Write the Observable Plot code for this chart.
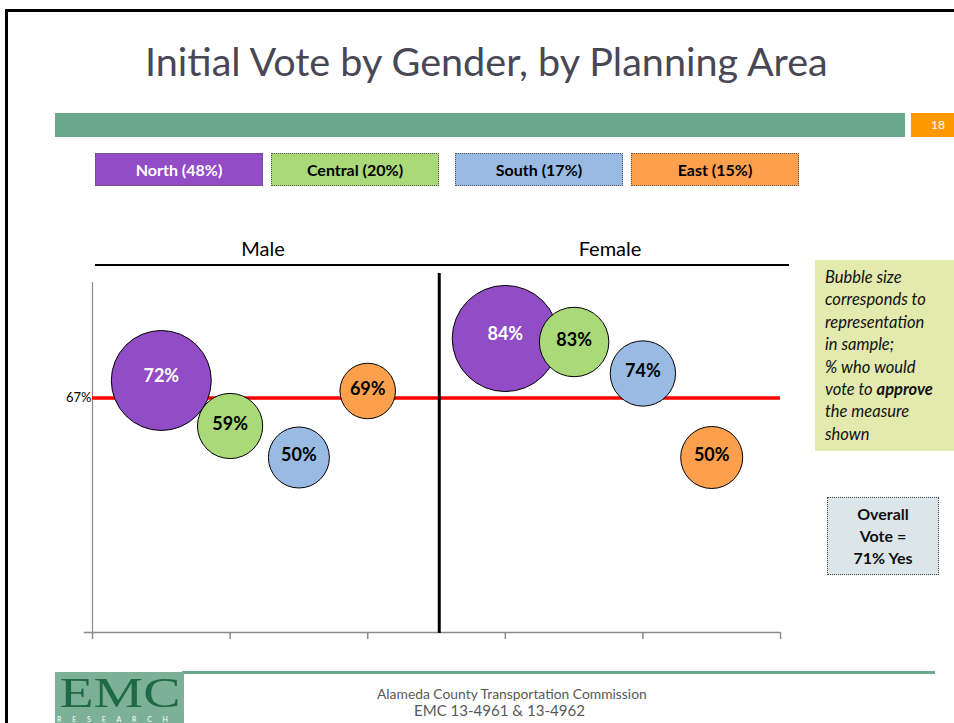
<!DOCTYPE html>
<html>
<head>
<meta charset="utf-8">
<script src="https://cdn.jsdelivr.net/npm/d3@7"></script>
<script src="https://cdn.jsdelivr.net/npm/@observablehq/plot@0.6"></script>
<style>
  body { margin: 0; background: #fff; }
  #slide { position: relative; width: 954px; height: 723px; overflow: hidden; font-family: Lato, "Open Sans", sans-serif; background: #fff; }
  .abs { position: absolute; }
  .txt { position: absolute; white-space: nowrap; line-height: 1; }
  .legend { position: absolute; box-sizing: border-box; border: 1px dotted #555; display: flex; align-items: center; justify-content: center; font-weight: bold; font-size: 16px; }
  #note { font-style: italic; font-size: 16.5px; line-height: 22.4px; color: #111; box-sizing: border-box; padding: 6px 0 0 10px; white-space: nowrap; }
  #overall { box-sizing: border-box; border: 1px dotted #444; display: flex; flex-direction: column; align-items: center; justify-content: center; text-align: center; font-weight: bold; font-size: 16px; line-height: 21.7px; color: #111; }
  #chart { position: absolute; left: 0; top: 220px; }
</style>
</head>
<body>
<div id="slide"></div>
<script>
// ---------- data ----------
const title = "Initial Vote by Gender, by Planning Area";
const regions = ["North", "Central", "South", "East"];
const regionShares = [48, 20, 17, 15];          // % of sample (legend)
const genders = ["Male", "Female"];
const maleVote = [72, 59, 50, 69];               // % vote to approve
const femaleVote = [84, 83, 74, 50];
const maleSize = [47, 20, 17.5, 14.5];           // bubble size (representation in sample)
const femaleSize = [53, 22.7, 20.1, 18.1];
const benchmark = 67;                            // red reference line
const overallYes = 71;
const pageNumber = "18";
const noteLines = ["Bubble size", "corresponds to", "representation", "in sample;", "% who would", "vote to <b>approve</b>", "the measure", "shown"];
const footerLines = ["Alameda County Transportation Commission", "EMC 13-4961 & 13-4962"];

// ---------- styles ----------
const regionColors = ["#914CC6", "#AAD97A", "#99BBE3", "#FDA04E"];
const legendTextColors = ["#fff", "#000", "#000", "#000"];
const legendLefts = [95, 271, 455, 631];

// ---------- build table ----------
const bubbles = [];
genders.forEach((g, gi) => {
  const votes = gi === 0 ? maleVote : femaleVote;
  const sizes = gi === 0 ? maleSize : femaleSize;
  regions.forEach((r, ri) => bubbles.push({
    gender: g, region: r,
    slot: gi * 2.5 + 0.5 + ri * 0.5,
    vote: votes[ri], size: sizes[ri]
  }));
});

const slide = document.getElementById("slide");
function el(cls, css, html) {
  const d = document.createElement("div");
  d.className = cls;
  Object.assign(d.style, css);
  if (html !== undefined) d.innerHTML = html;
  slide.appendChild(d);
  return d;
}
// place text so its baseline is at y, fitting width / centering
function placeText(d, {baseline, left, center, width}) {
  const m = document.createElement("span");
  m.style.cssText = "display:inline-block;width:0;height:0;vertical-align:baseline";
  d.appendChild(m);
  if (width) {
    const w = d.getBoundingClientRect().width;
    d.style.fontSize = parseFloat(getComputedStyle(d).fontSize) * width / w + "px";
  }
  const r = d.getBoundingClientRect();
  const b = m.getBoundingClientRect().bottom - r.top;
  d.style.top = (baseline - b) + "px";
  if (left !== undefined) d.style.left = left + "px";
  if (center !== undefined) d.style.left = (center - r.width / 2) + "px";
}

// slide border
el("abs", {left: "5px", top: "9px", width: "949px", height: "3px", background: "#000"});
el("abs", {left: "5px", top: "9px", width: "3px", height: "714px", background: "#000"});

// title
const t = el("txt", {fontSize: "36px", color: "#474755", top: "0px", left: "0px"}, title);
placeText(t, {baseline: 76, left: 145, width: 683});

// green bar + page number
el("abs", {left: "55px", top: "113px", width: "850px", height: "24px", background: "#6BA78A"});
el("abs", {left: "911px", top: "113px", width: "43px", height: "24px", background: "#FF9900", color: "#fff", fontSize: "12px", lineHeight: "24px", textAlign: "right", paddingRight: "9px", boxSizing: "border-box"}, pageNumber);

// legend boxes
regions.forEach((r, i) => {
  el("legend", {left: legendLefts[i] + "px", top: "153px", width: "168px", height: "33px", background: regionColors[i], color: legendTextColors[i]}, `${r} (${regionShares[i]}%)`);
});

// gender headers
[263, 610].forEach((cx, i) => {
  const h = el("txt", {fontSize: "20px", color: "#000"}, genders[i]);
  placeText(h, {baseline: 256, center: cx});
});
el("abs", {left: "95px", top: "263.5px", width: "694px", height: "2.5px", background: "#000"});

// chart
const chart = Plot.plot({
  width: 954,
  height: 430,
  marginLeft: 92, marginRight: 174, marginTop: 62, marginBottom: 18,
  x: {domain: [0, 5]},
  y: {domain: [0, 100]},
  r: {type: "sqrt", domain: [0, 100], range: [0, 72.9]},
  color: {domain: regions, range: regionColors},
  style: {background: "transparent", overflow: "visible", fontFamily: "Lato, sans-serif"},
  marks: [
    Plot.ruleX([0], {y1: 0, y2: 100, stroke: "#8c8c8c", strokeWidth: 1.2}),
    Plot.ruleY([0], {x1: -0.06, x2: 5, stroke: "#8c8c8c", strokeWidth: 1.5}),
    Plot.axisX({ticks: d3.range(0, 6), tickSize: 7, tickFormat: () => "", stroke: "#8c8c8c", strokeWidth: 1.5, label: null}),
    Plot.axisY({ticks: [benchmark], tickSize: 0, tickPadding: 1, tickFormat: d => d + "%", fontSize: 13, fill: "#000", label: null}),
    Plot.ruleY([benchmark], {x1: 0, x2: 5, stroke: "#ff0000", strokeWidth: 3.5}),
    Plot.ruleX([2.52], {y1: -0.3, y2: 102.6, stroke: "#000", strokeWidth: 3}),
    Plot.dot(bubbles, {x: "slot", y: "vote", r: "size", fill: "region", stroke: "#000", strokeWidth: 1}),
    Plot.text(bubbles.filter(d => d.region === "North"), {x: "slot", y: "vote", text: d => d.vote + "%", fill: "#fff", fontSize: 18, fontWeight: "bold", dy: -4}),
    Plot.text(bubbles.filter(d => d.region !== "North"), {x: "slot", y: "vote", text: d => d.vote + "%", fill: "#000", fontSize: 18, fontWeight: "bold", dy: -2})
  ]
});
chart.id = "chart";
slide.appendChild(chart);

// side note
el("abs", {left: "815px", top: "260px", width: "139px", height: "191px", background: "#E2EAAE"}, noteLines.join("<br>")).id = "note";

// overall vote
el("abs", {left: "827px", top: "497px", width: "112px", height: "78px", background: "#DCE6EA"}, `<div>Overall<br>Vote =<br>${overallYes}% Yes</div>`).id = "overall";

// footer
el("abs", {left: "182px", top: "671px", width: "753px", height: "3px", background: "#6BA78A"});
const logo = el("abs", {left: "55px", top: "672px", width: "129px", height: "51px", background: "#7DB197"});
logo.innerHTML = '<div style="position:absolute;left:14.5px;top:-3.5px;width:100px;line-height:normal;text-align:center;font-family:\'Liberation Serif\',serif;font-size:42px;color:#1E6A45;transform:scaleX(1.33);transform-origin:center;white-space:nowrap;">EMC</div>' +
  '<div style="position:absolute;left:2px;top:44px;height:7px;line-height:7px;font-family:Lato,sans-serif;font-size:7px;letter-spacing:10.8px;color:#fff;white-space:nowrap;">RESEARCH</div>';
const f1 = el("txt", {fontSize: "13px", color: "#595959"}, footerLines[0]);
placeText(f1, {baseline: 699, left: 377, width: 270});
const f2 = el("txt", {fontSize: "13px", color: "#595959"}, footerLines[1]);
placeText(f2, {baseline: 716, left: 414, width: 171});
</script>
</body>
</html>
